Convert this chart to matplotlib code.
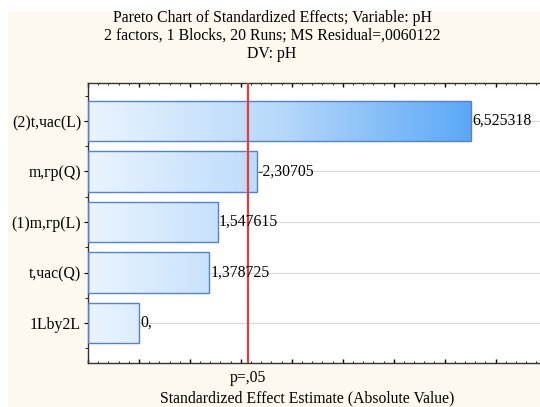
import numpy as np
import matplotlib.pyplot as plt
from matplotlib.colors import LinearSegmentedColormap
from matplotlib.patches import Rectangle
from matplotlib.ticker import MultipleLocator, NullFormatter

plt.rcParams['font.family'] = ['Liberation Serif', 'DejaVu Serif']

# --- datos ---
efectos = ['(2)t,час(L)', 'm,гр(Q)', '(1)m,гр(L)', 't,час(Q)', '1Lby2L']
valores = [6.525318, 2.30705, 1.547615, 1.378725, 0.0]
etiquetas = ['6,525318', '-2,30705', '1,547615', '1,378725', '0,']
t_crit = 2.145  # p=,05

x_min, x_max = -1.0, 8.0
crema = '#fef9ee'
fs = 11.3

fig = plt.figure(figsize=(5.4, 4.07), dpi=100, facecolor='white')
fig.patches.append(Rectangle((8 / 540, 0), 1, 1 - 12 / 407, transform=fig.transFigure,
                             facecolor=crema, edgecolor='none', zorder=-10))

ax_left = 88 / 540
ax_w = (546.6 - 88) / 540
ax_bottom = 1 - 363 / 407
ax_h = 280 / 407
ax = fig.add_axes([ax_left, ax_bottom, ax_w, ax_h])
ax.set_facecolor('white')

cmap = LinearSegmentedColormap.from_list('azul', ['#eaf4ff', '#b6d8fa', '#58a7f7'])
grad = np.linspace(0, 1, 256).reshape(1, -1)

pos = np.arange(len(efectos))
alto = 0.8
for i, (v, txt) in enumerate(zip(valores, etiquetas)):
    rect = Rectangle((x_min, i - alto / 2), v - x_min, alto, facecolor='none',
                     edgecolor='#5080e0', linewidth=1.0, zorder=3)
    ax.add_patch(rect)
    im = ax.imshow(grad, cmap=cmap, aspect='auto', extent=(x_min, 6.6, i + alto / 2, i - alto / 2),
                   zorder=2, interpolation='bilinear')
    im.set_clip_path(rect)
    ax.text(v + 0.02, i, txt, va='center', ha='left', fontsize=fs, zorder=5)

# linea de la grilla en cada efecto
for i in pos:
    ax.axhline(i, color='#d8d8d8', linewidth=0.8, zorder=1)

ax.axvline(t_crit, color='#e83a3a', linewidth=1.6, zorder=4)

ax.set_xlim(x_min, x_max)
ax.set_ylim(4.79, -0.75)

ax.set_yticks(pos)
ax.set_yticklabels(efectos, fontsize=fs)
ax.yaxis.set_minor_locator(MultipleLocator(0.5))
ax.tick_params(axis='y', which='major', direction='out', length=3, width=0.8, pad=2)
ax.tick_params(axis='y', which='minor', direction='out', length=2, width=0.6)

ax.xaxis.set_major_locator(MultipleLocator(1))
ax.xaxis.set_minor_locator(MultipleLocator(0.2))
ax.xaxis.set_major_formatter(NullFormatter())
ax.tick_params(axis='x', which='both', direction='in', top=True, bottom=True)
ax.tick_params(axis='x', which='major', length=3, width=1.0)
ax.tick_params(axis='x', which='minor', length=1.5, width=0.6)

for s in ax.spines.values():
    s.set_linewidth(1.0)
    s.set_color('#333333')

fig.text(248 / 540, 1 - 378 / 407, 'p=,05', ha='center', va='center', fontsize=fs)
fig.text(307 / 540, 1 - 398 / 407, 'Standardized Effect Estimate (Absolute Value)',
         ha='center', va='center', fontsize=fs)

titulo = ['Pareto Chart of Standardized Effects; Variable: pH',
          '2 factors, 1 Blocks, 20 Runs; MS Residual=,0060122',
          'DV: pH']
for k, linea in enumerate(titulo):
    fig.text(272 / 540, 1 - (18 + 18 * k) / 407, linea, ha='center', va='center', fontsize=fs)

fig.savefig('out.png', dpi=100, facecolor=fig.get_facecolor())
